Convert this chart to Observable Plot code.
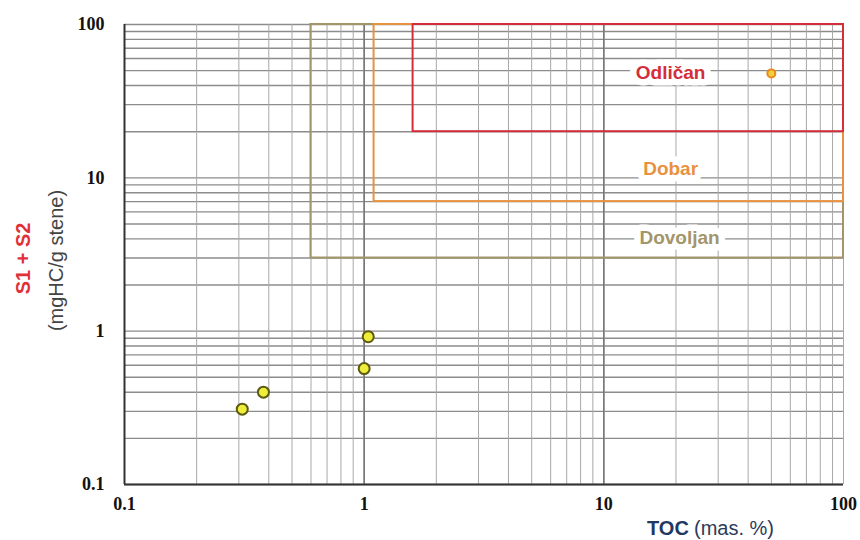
<!DOCTYPE html>
<html>
<head>
<meta charset="utf-8">
<script src="https://cdn.jsdelivr.net/npm/d3@7"></script>
<script src="https://cdn.jsdelivr.net/npm/@observablehq/plot@0.6"></script>
<style>
  html, body { margin: 0; padding: 0; background: #fff; }
</style>
</head>
<body>
<div id="chart"></div>
<script>
// Quality ranges (source-rock potential)
const rangeNames = ["Dovoljan", "Dobar", "Odličan"];
const rangeTocMin = [0.6, 1.1, 1.6];
const rangeTocMax = [100, 100, 100];
const rangeS12Min = [3, 7, 20];
const rangeS12Max = [100, 100, 100];
const rangeColors = ["#a3956a", "#e8913f", "#d42e3a"];
const rangeLabelToc = [20.7, 19, 19];
const rangeLabelS12 = [4.05, 11.5, 48];

// Samples
const sampleToc = [0.31, 0.38, 1.0, 1.04];
const sampleS12 = [0.31, 0.40, 0.57, 0.92];
const highlightToc = [50];
const highlightS12 = [48];

// Axis ticks
const tickValues = [0.1, 1, 10, 100];
const majorGrid = [1, 10];

const ranges = rangeNames.map((name, i) => ({
  name, x1: rangeTocMin[i], x2: rangeTocMax[i], y1: rangeS12Min[i], y2: rangeS12Max[i],
  color: rangeColors[i], lx: rangeLabelToc[i], ly: rangeLabelS12[i]
}));
const samples = sampleToc.map((x, i) => ({x, y: sampleS12[i]}));
const highlight = highlightToc.map((x, i) => ({x, y: highlightS12[i]}));

const tickFont = {fontFamily: "Liberation Serif", fontWeight: "bold", fontSize: 18};

const chart = Plot.plot({
  width: 860,
  height: 540,
  marginLeft: 124,
  marginRight: 17,
  marginTop: 24,
  marginBottom: 56,
  style: {fontFamily: "Liberation Sans", background: "#fff", color: "#111"},
  x: {type: "log", domain: [0.1, 100]},
  y: {type: "log", domain: [0.1, 100]},
  marks: [
    Plot.gridY({stroke: "#8c8c8c", strokeOpacity: 1, strokeWidth: 1.4, ticks: 30}),
    Plot.gridX({stroke: "#a8a8a8", strokeOpacity: 1, strokeWidth: 1, ticks: 30}),
    Plot.gridX(majorGrid, {stroke: "#777", strokeOpacity: 1, strokeWidth: 1.6}),
    Plot.ruleX([0.1], {stroke: "#333", strokeWidth: 2}),
    Plot.ruleY([0.1], {stroke: "#333", strokeWidth: 2}),
    Plot.rect(ranges, {x1: "x1", x2: "x2", y1: "y1", y2: "y2", stroke: d => d.color, fill: "none", strokeWidth: 2}),
    Plot.text(ranges, {x: "lx", y: "ly", text: "name", fill: d => d.color, stroke: "white", strokeWidth: 13, strokeLinejoin: "round", fontWeight: "bold", fontSize: 19}),
    Plot.dot(samples, {x: "x", y: "y", r: 5.5, fill: "#eeee3a", stroke: "#5c5a12", strokeWidth: 2}),
    Plot.dot(highlight, {x: "x", y: "y", r: 4, fill: "#f2d23c", stroke: "#e8891e", strokeWidth: 2}),
    Plot.axisX({ticks: tickValues, tickSize: 0, tickPadding: 13, tickFormat: d => String(d), label: null, ...tickFont, fill: "#111"}),
    Plot.axisY({ticks: tickValues, tickSize: 0, tickPadding: 20, tickFormat: d => String(d), label: null, ...tickFont, fill: "#111"}),
    Plot.text(["TOC"], {frameAnchor: "bottom", lineAnchor: "middle", textAnchor: "start", dx: 163, dy: 44, fill: "#1f3864", fontSize: 20, fontWeight: "bold"}),
    Plot.text(["(mas. %)"], {frameAnchor: "bottom", lineAnchor: "middle", textAnchor: "start", dx: 210, dy: 44, fill: "#2c3a58", fontSize: 20}),
    Plot.text(["S1 + S2"], {frameAnchor: "left", rotate: -90, lineAnchor: "middle", textAnchor: "middle", dx: -101, dy: 4, fill: "#e0303a", fontSize: 20, fontWeight: "bold"}),
    Plot.text(["(mgHC/g stene)"], {frameAnchor: "left", rotate: -90, lineAnchor: "middle", textAnchor: "middle", dx: -68, dy: 6, fill: "#444", fontSize: 20})
  ]
});
document.getElementById("chart").appendChild(chart);
</script>
</body>
</html>
